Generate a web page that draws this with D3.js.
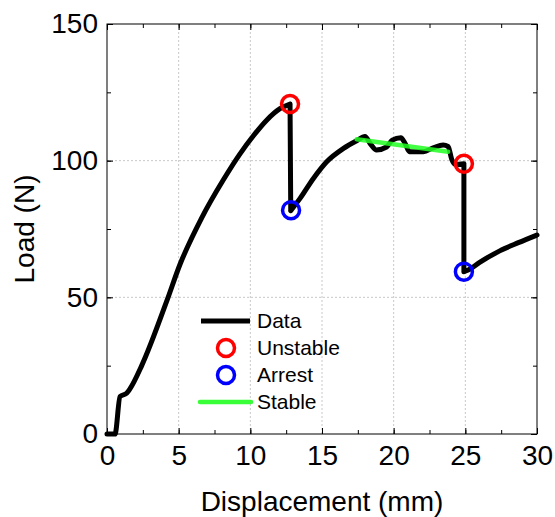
<!DOCTYPE html>
<html><head><meta charset="utf-8">
<script src="https://cdn.jsdelivr.net/npm/d3@7"></script>
<style>body{margin:0;background:#fff}svg{display:block}</style>
</head><body>
<svg id="c" width="555" height="517"></svg>
<script>
// Data
const dataDisp = [0, 0.56, 0.91, 1.37, 1.6, 2.42, 4.16, 5.09, 6.6, 8.12, 9.28, 10.2, 11.14, 12.07, 12.77, 12.82, 13.47, 14.4, 15.33, 16.5, 17.42, 18.0, 18.4, 18.8, 19.5, 19.9, 20.5, 20.8, 21.1, 22.07, 22.8, 23.45, 23.8, 24.05, 24.3, 24.9, 24.9, 25.2, 26.0, 27.4, 28.7, 30];
const dataLoad = [0, 0, 13.7, 14.9, 16.5, 25, 48.5, 62, 79, 93, 102.5, 109, 114.8, 119, 120.7, 81.7, 86.2, 93.5, 99.6, 104.5, 107.3, 108.8, 106.0, 103.9, 105.0, 107.5, 108.4, 106.3, 103.3, 103.3, 104.8, 105.7, 105.2, 100.5, 98.6, 98.9, 59.4, 60.0, 62.8, 67.0, 70.0, 72.8];
const unstableDisp = [12.77, 24.9];
const unstableLoad = [120.7, 98.9];
const arrestDisp = [12.84, 24.9];
const arrestLoad = [81.9, 59.4];
const stableDisp = [17.42, 23.8];
const stableLoad = [107.8, 103.3];
const xTicks = [0, 5, 10, 15, 20, 25, 30];
const yTicks = [0, 50, 100, 150];
const legendLabels = ["Data", "Unstable", "Arrest", "Stable"];

const svg = d3.select("#c");
const L = 107, R = 537, T = 24, B = 434;
const x = d3.scaleLinear().domain([0, 30]).range([L, R]);
const y = d3.scaleLinear().domain([0, 150]).range([B, T]);
const font = "Liberation Sans, Arial, sans-serif";

// grid
const g = svg.append("g");
g.selectAll("line.gx").data(xTicks.slice(1, -1)).enter().append("line")
  .attr("x1", d => x(d)).attr("x2", d => x(d)).attr("y1", T).attr("y2", B)
  .attr("stroke", "#c8c8c8").attr("stroke-width", 1).attr("stroke-dasharray", "2,2");
g.selectAll("line.gy").data(yTicks.slice(1, -1)).enter().append("line")
  .attr("y1", d => y(d)).attr("y2", d => y(d)).attr("x1", L).attr("x2", R)
  .attr("stroke", "#c8c8c8").attr("stroke-width", 1).attr("stroke-dasharray", "2,2");

// axes with inward ticks on all sides
const xMinor = d3.range(0, 30.01, 2.5);
const yMinor = d3.range(0, 150.01, 25);
function axisSet(axisGen, transform, minorVals, majorVals) {
  const a = svg.append("g").attr("transform", transform);
  a.call(axisGen.tickValues(minorVals).tickSize(4).tickSizeOuter(0).tickFormat(""));
  a.select(".domain").remove();
  a.selectAll("line").attr("stroke", "#000");
  const b = svg.append("g").attr("transform", transform);
  b.call(axisGen.tickValues(majorVals).tickSize(6).tickSizeOuter(0).tickFormat(""));
  b.select(".domain").remove();
  b.selectAll("line").attr("stroke", "#000");
}
axisSet(d3.axisTop(x), `translate(0,${B})`, xMinor, xTicks);
axisSet(d3.axisBottom(x), `translate(0,${T})`, xMinor, xTicks);
axisSet(d3.axisRight(y), `translate(${L},0)`, yMinor, yTicks);
axisSet(d3.axisLeft(y), `translate(${R},0)`, yMinor, yTicks);
const xb = svg.append("g").attr("transform", `translate(0,${B})`)
  .call(d3.axisBottom(x).tickValues(xTicks).tickSize(0).tickPadding(11));
xb.select(".domain").remove();
xb.selectAll("text").attr("font-family", font).attr("font-size", 28).attr("fill", "#000");
const yb = svg.append("g").attr("transform", `translate(${L},0)`)
  .call(d3.axisLeft(y).tickValues(yTicks).tickSize(0).tickPadding(9));
yb.select(".domain").remove();
yb.selectAll("text").attr("font-family", font).attr("font-size", 28).attr("fill", "#000");

svg.append("rect").attr("x", L).attr("y", T).attr("width", R - L).attr("height", B - T)
  .attr("fill", "none").attr("stroke", "#000").attr("stroke-width", 1);

// data line: smooth segments, straight vertical drops
const pts = dataDisp.map((d, i) => [d, dataLoad[i]]);
const segments = [[pts[0]]];
for (let i = 1; i < pts.length; i++) {
  const drop = pts[i - 1][1] - pts[i][1] > 20;
  if (drop) segments.push([pts[i]]);
  else segments[segments.length - 1].push(pts[i]);
}
const smooth = d3.line().x(d => x(d[0])).y(d => y(d[1])).curve(d3.curveMonotoneX);
const straight = d3.line().x(d => x(d[0])).y(d => y(d[1]));
let dStr = "";
segments.forEach((s, k) => {
  dStr += smooth(s);
  if (k < segments.length - 1) dStr += straight([s[s.length - 1], segments[k + 1][0]]);
});
svg.append("path").attr("d", dStr).attr("fill", "none").attr("stroke", "#000")
  .attr("stroke-width", 5).attr("stroke-linejoin", "round").attr("stroke-linecap", "round");

// stable line
svg.append("path").attr("d", straight(stableDisp.map((d, i) => [d, stableLoad[i]])))
  .attr("fill", "none").attr("stroke", "#22ff22").attr("stroke-opacity", 0.85)
  .attr("stroke-width", 4.5).attr("stroke-linecap", "round");

// markers
svg.selectAll("circle.u").data(unstableDisp).enter().append("circle")
  .attr("cx", d => x(d)).attr("cy", (d, i) => y(unstableLoad[i])).attr("r", 8.5)
  .attr("fill", "none").attr("stroke", "#ff0000").attr("stroke-width", 3.5);
svg.selectAll("circle.a").data(arrestDisp).enter().append("circle")
  .attr("cx", d => x(d)).attr("cy", (d, i) => y(arrestLoad[i])).attr("r", 8.5)
  .attr("fill", "none").attr("stroke", "#0000ff").attr("stroke-width", 3.5);

// legend
const lg = svg.append("g");
const rowsY = [321, 348, 375, 402];
lg.append("line").attr("x1", 201).attr("x2", 250).attr("y1", rowsY[0]).attr("y2", rowsY[0])
  .attr("stroke", "#000").attr("stroke-width", 5);
lg.append("circle").attr("cx", 226).attr("cy", rowsY[1]).attr("r", 8.5)
  .attr("fill", "none").attr("stroke", "#ff0000").attr("stroke-width", 3.5);
lg.append("circle").attr("cx", 226).attr("cy", rowsY[2]).attr("r", 8.5)
  .attr("fill", "none").attr("stroke", "#0000ff").attr("stroke-width", 3.5);
lg.append("line").attr("x1", 200).attr("x2", 251).attr("y1", rowsY[3]).attr("y2", rowsY[3])
  .attr("stroke", "#22ff22").attr("stroke-opacity", 0.9).attr("stroke-width", 4.5).attr("stroke-linecap", "round");
lg.selectAll("text").data(legendLabels).enter().append("text")
  .attr("x", 257).attr("y", (d, i) => rowsY[i]).attr("dy", "0.35em")
  .attr("font-family", font).attr("font-size", 21).attr("fill", "#000").text(d => d);

// axis titles
svg.append("text").attr("x", (L + R) / 2).attr("y", 511).attr("text-anchor", "middle")
  .attr("font-family", font).attr("font-size", 28).attr("fill", "#000").text("Displacement (mm)");
svg.append("text").attr("transform", `translate(34,${(T + B) / 2}) rotate(-90)`).attr("text-anchor", "middle")
  .attr("font-family", font).attr("font-size", 28).attr("fill", "#000").text("Load (N)");
</script>
</body></html>
